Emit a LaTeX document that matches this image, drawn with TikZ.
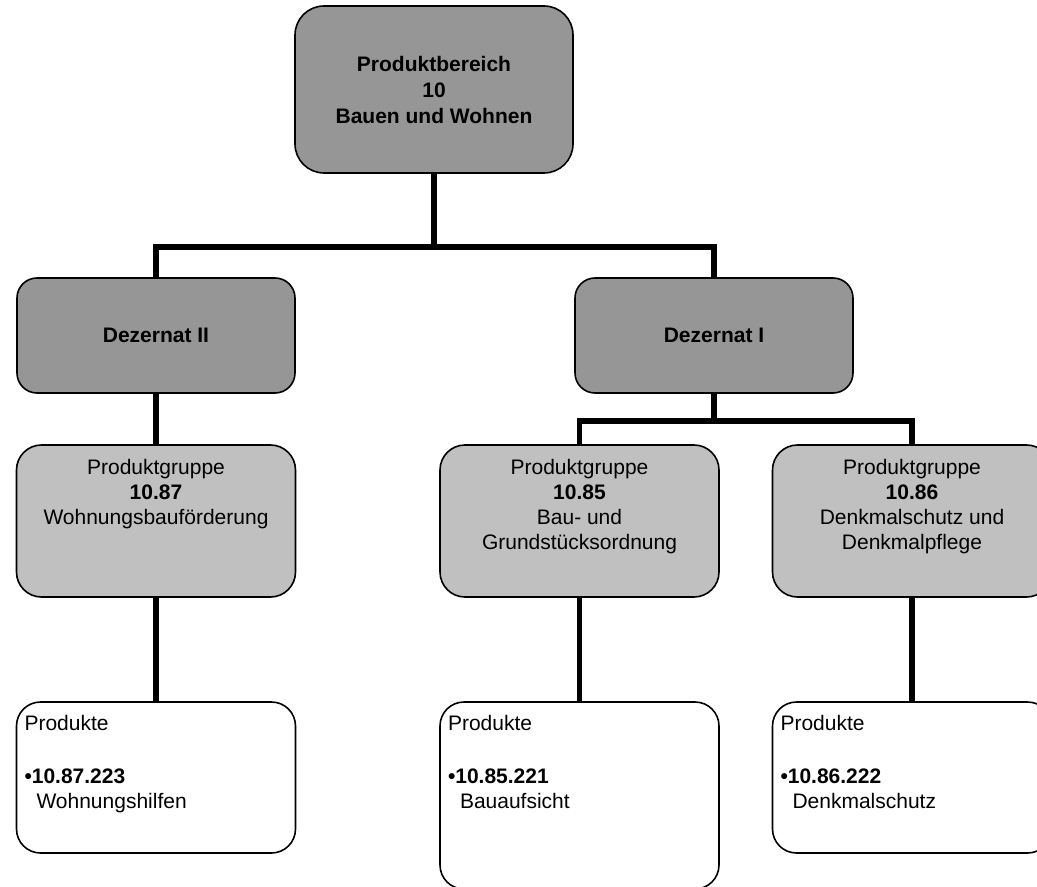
\documentclass[tikz,border=0pt]{standalone}
\usepackage{fontspec}
\setmainfont{Liberation Sans}
\usetikzlibrary{shapes}
\definecolor{dunkelgrau}{RGB}{150,150,150}
\definecolor{hellgrau}{RGB}{192,192,192}
\tikzstyle{kasten}=[draw, line width=1.2pt, inner sep=0pt,
    font=\fontsize{15.75pt}{18.75pt}\selectfont]
\tikzstyle{bereich}=[kasten, fill=dunkelgrau, align=center,
    minimum width=208.5pt, minimum height=125.25pt, rounded corners=21.75pt,
    font=\fontsize{15.75pt}{19.5pt}\selectfont\bfseries]
\tikzstyle{dezernat}=[bereich, minimum height=86.25pt, rounded corners=15pt]
\tikzstyle{gruppe}=[kasten, fill=hellgrau, rounded corners=18.75pt]
\tikzstyle{produkt}=[kasten, fill=white, inner xsep=6pt, rounded corners=18pt]
\tikzstyle{verbind}=[line width=4.1pt]
\newcommand{\gruppentext}[1]{\parbox[c][114pt][t]{209.25pt}{\centering
    \rule{0pt}{22pt}Produktgruppe\\#1}}
\newcommand{\produkttext}[3]{\parbox[c][#1][t]{197.25pt}{\raggedright
    \rule{0pt}{21.4pt}Produkte\\[21pt]\textbf{•#2}\\\hspace*{9pt}#3}}
\def\ebenedist{185.5}
\def\proddist{256.5}

\begin{document}
\begin{tikzpicture}[x=0.75pt, y=-0.75pt]
    \useasboundingbox (0,0) rectangle (1037,887);
    \clip (0,0) rectangle (1037,887);
    \path (434,89.5) node (pb) [bereich] {Produktbereich\\10\\Bauen und Wohnen};
    \path (pb)+(-278,246) node (dz2) [dezernat] {Dezernat II};
    \path (pb)+(280,246) node (dz1) [dezernat] {Dezernat I};
    \path (dz2)+(0,\ebenedist) node (pg87) [gruppe]
        {\gruppentext{\textbf{10.87}\\Wohnungsbauförderung}};
    \path (dz1)+(-134.5,\ebenedist) node (pg85) [gruppe]
        {\gruppentext{\textbf{10.85}\\Bau- und\\Grundstücksordnung}};
    \path (dz1)+(198,\ebenedist) node (pg86) [gruppe]
        {\gruppentext{\textbf{10.86}\\Denkmalschutz und\\Denkmalpflege}};
    \path (pg87)+(0,\proddist) node (pr87) [produkt]
        {\produkttext{113.25pt}{10.87.223}{Wohnungshilfen}};
    \path (pg85)+(0,274.5) node (pr85) [produkt]
        {\produkttext{140.25pt}{10.85.221}{Bauaufsicht}};
    \path (pg86)+(0,\proddist) node (pr86) [produkt]
        {\produkttext{113.25pt}{10.86.222}{Denkmalschutz}};
    \path (pb.south)+(0,73) coordinate (bus1);
    \path (dz1.south)+(0,27) coordinate (bus2);
    \draw [verbind] (pb.south) -- (bus1);
    \draw [verbind] (dz2.north) |- (bus1) -| (dz1.north);
    \draw [verbind] (dz2.south) -- (pg87.north);
    \draw [verbind] (dz1.south) -- (bus2);
    \draw [verbind] (pg85.north) |- (bus2) -| (pg86.north);
    \draw [verbind] (pg87.south) -- (pr87.north);
    \draw [verbind] (pg85.south) -- (pr85.north);
    \draw [verbind] (pg86.south) -- (pr86.north);
\end{tikzpicture}
\end{document}
